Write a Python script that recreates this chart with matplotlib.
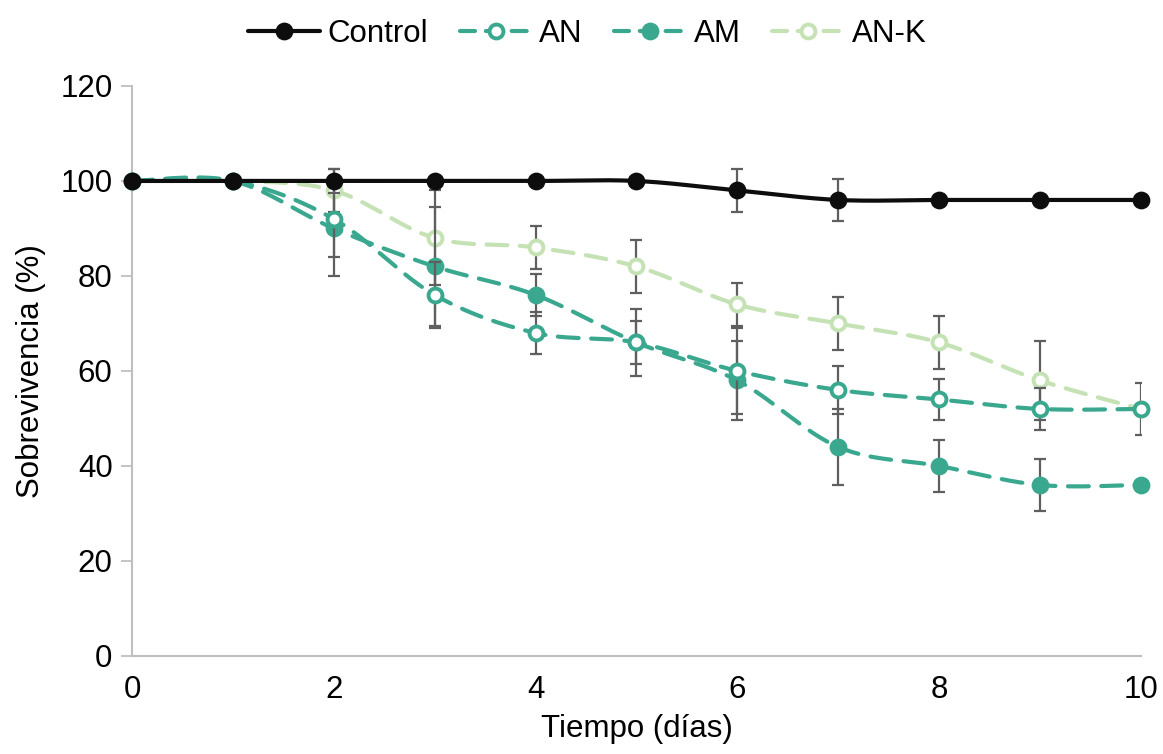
import numpy as np
import matplotlib
matplotlib.use("Agg")
import matplotlib.pyplot as plt
from matplotlib.lines import Line2D

plt.rcParams['font.family'] = ['Liberation Sans', 'DejaVu Sans']

dias = [0, 1, 2, 3, 4, 5, 6, 7, 8, 9, 10]
control = [100, 100, 100, 100, 100, 100, 98, 96, 96, 96, 96]
control_err = [0, 0, 2.5, 0, 0, 0, 4.5, 4.5, 0, 0, 0]
an = [100, 100, 92, 76, 68, 66, 60, 56, 54, 52, 52]
an_err = [0, 0, 8, 7, 4.5, 4.5, 9, 5, 4.4, 4.5, 0]
am = [100, 100, 90, 82, 76, 66, 58, 44, 40, 36, 36]
am_err = [0, 0, 10, 12.5, 4.5, 7, 8.3, 8, 5.5, 5.5, 0]
ank = [100, 100, 98, 88, 86, 82, 74, 70, 66, 58, 52]
ank_err = [0, 0, 4.5, 10, 4.5, 5.6, 4.5, 5.5, 5.5, 8.4, 5.5]

c_black = '#0d0d0d'
c_teal = '#3aa88f'
c_light = '#c5e2b5'
c_err = '#5f5f5f'
FS = 22.5


def smooth(x, y, n=30):
    """Catmull-Rom style smoothing of the line path (rendering only)."""
    x = np.asarray(x, float)
    y = np.asarray(y, float)
    px = np.concatenate([[x[0]], x, [x[-1]]])
    py = np.concatenate([[y[0]], y, [y[-1]]])
    xs, ys = [], []
    t = np.linspace(0, 1, n)
    for i in range(1, len(px) - 2):
        p0, p1, p2, p3 = (np.array([px[j], py[j]]) for j in (i - 1, i, i + 1, i + 2))
        m1 = (p2 - p0) / 6.0
        m2 = (p3 - p1) / 6.0
        b0, b1, b2, b3 = p1, p1 + m1, p2 - m2, p2
        pts = (((1 - t) ** 3)[:, None] * b0 + (3 * (1 - t) ** 2 * t)[:, None] * b1
               + (3 * (1 - t) * t ** 2)[:, None] * b2 + (t ** 3)[:, None] * b3)
        xs.extend(pts[:, 0])
        ys.extend(pts[:, 1])
    return np.array(xs), np.array(ys)


fig = plt.figure(figsize=(11.63, 7.54), dpi=100)
ax = fig.add_axes([0.1135, 0.13, 0.8675, 0.756])

series = [
    ('Control', control, control_err, c_black, '-', c_black),
    ('AN', an, an_err, c_teal, '--', 'white'),
    ('AM', am, am_err, c_teal, '--', c_teal),
    ('AN-K', ank, ank_err, c_light, '--', 'white'),
]

handles = []
for k, (name, vals, errs, col, ls, fc) in enumerate(series):
    z = 10 - k
    sx, sy = smooth(dias, vals)
    ln, = ax.plot(sx, sy, color=col, lw=3, ls=ls, zorder=z, clip_on=False,
                  solid_capstyle='round', dash_capstyle='round')
    if ls == '--':
        ln.set_dashes((5, 3))
    errs_arr = np.array(errs, float)
    mask = errs_arr > 0
    ax.errorbar(np.array(dias)[mask], np.array(vals)[mask], yerr=errs_arr[mask],
                fmt='none', ecolor=c_err, elinewidth=1.6, capsize=4.5, capthick=1.6,
                zorder=z - 0.5)
    ax.plot(dias, vals, ls='none', marker='o', ms=10, mfc=fc, mec=col,
            mew=2.8, zorder=z + 0.2, clip_on=False)
    h = Line2D([], [], color=col, lw=3, ls=ls, marker='o', ms=10, mfc=fc,
               mec=col, mew=2.8, dash_capstyle='round', solid_capstyle='round')
    if ls == '--':
        h.set_dashes((3.6, 2.6))
    handles.append(h)

ax.set_xlim(0, 10)
ax.set_ylim(0, 120)
ax.set_xticks(range(0, 11, 2))
ax.set_yticks(range(0, 121, 20))
ax.tick_params(axis='x', length=0, pad=14, labelsize=FS, colors='black')
ax.tick_params(axis='y', length=8, width=1.3, color='#bfbfbf', pad=6, labelsize=FS)
for s in ['top', 'right']:
    ax.spines[s].set_visible(False)
for s in ['left', 'bottom']:
    ax.spines[s].set_color('#bfbfbf')
    ax.spines[s].set_linewidth(1.5)

ax.set_xlabel('Tiempo (días)', fontsize=FS, labelpad=6)
ax.set_ylabel('Sobrevivencia (%)', fontsize=FS, labelpad=10)

fig.legend(handles, [s[0] for s in series], loc='upper center',
           bbox_to_anchor=(0.505, 1.012), ncol=4, frameon=False, fontsize=FS,
           handlelength=2.3, columnspacing=1.0, handletextpad=0.25)

fig.savefig('out.png', dpi=100)
